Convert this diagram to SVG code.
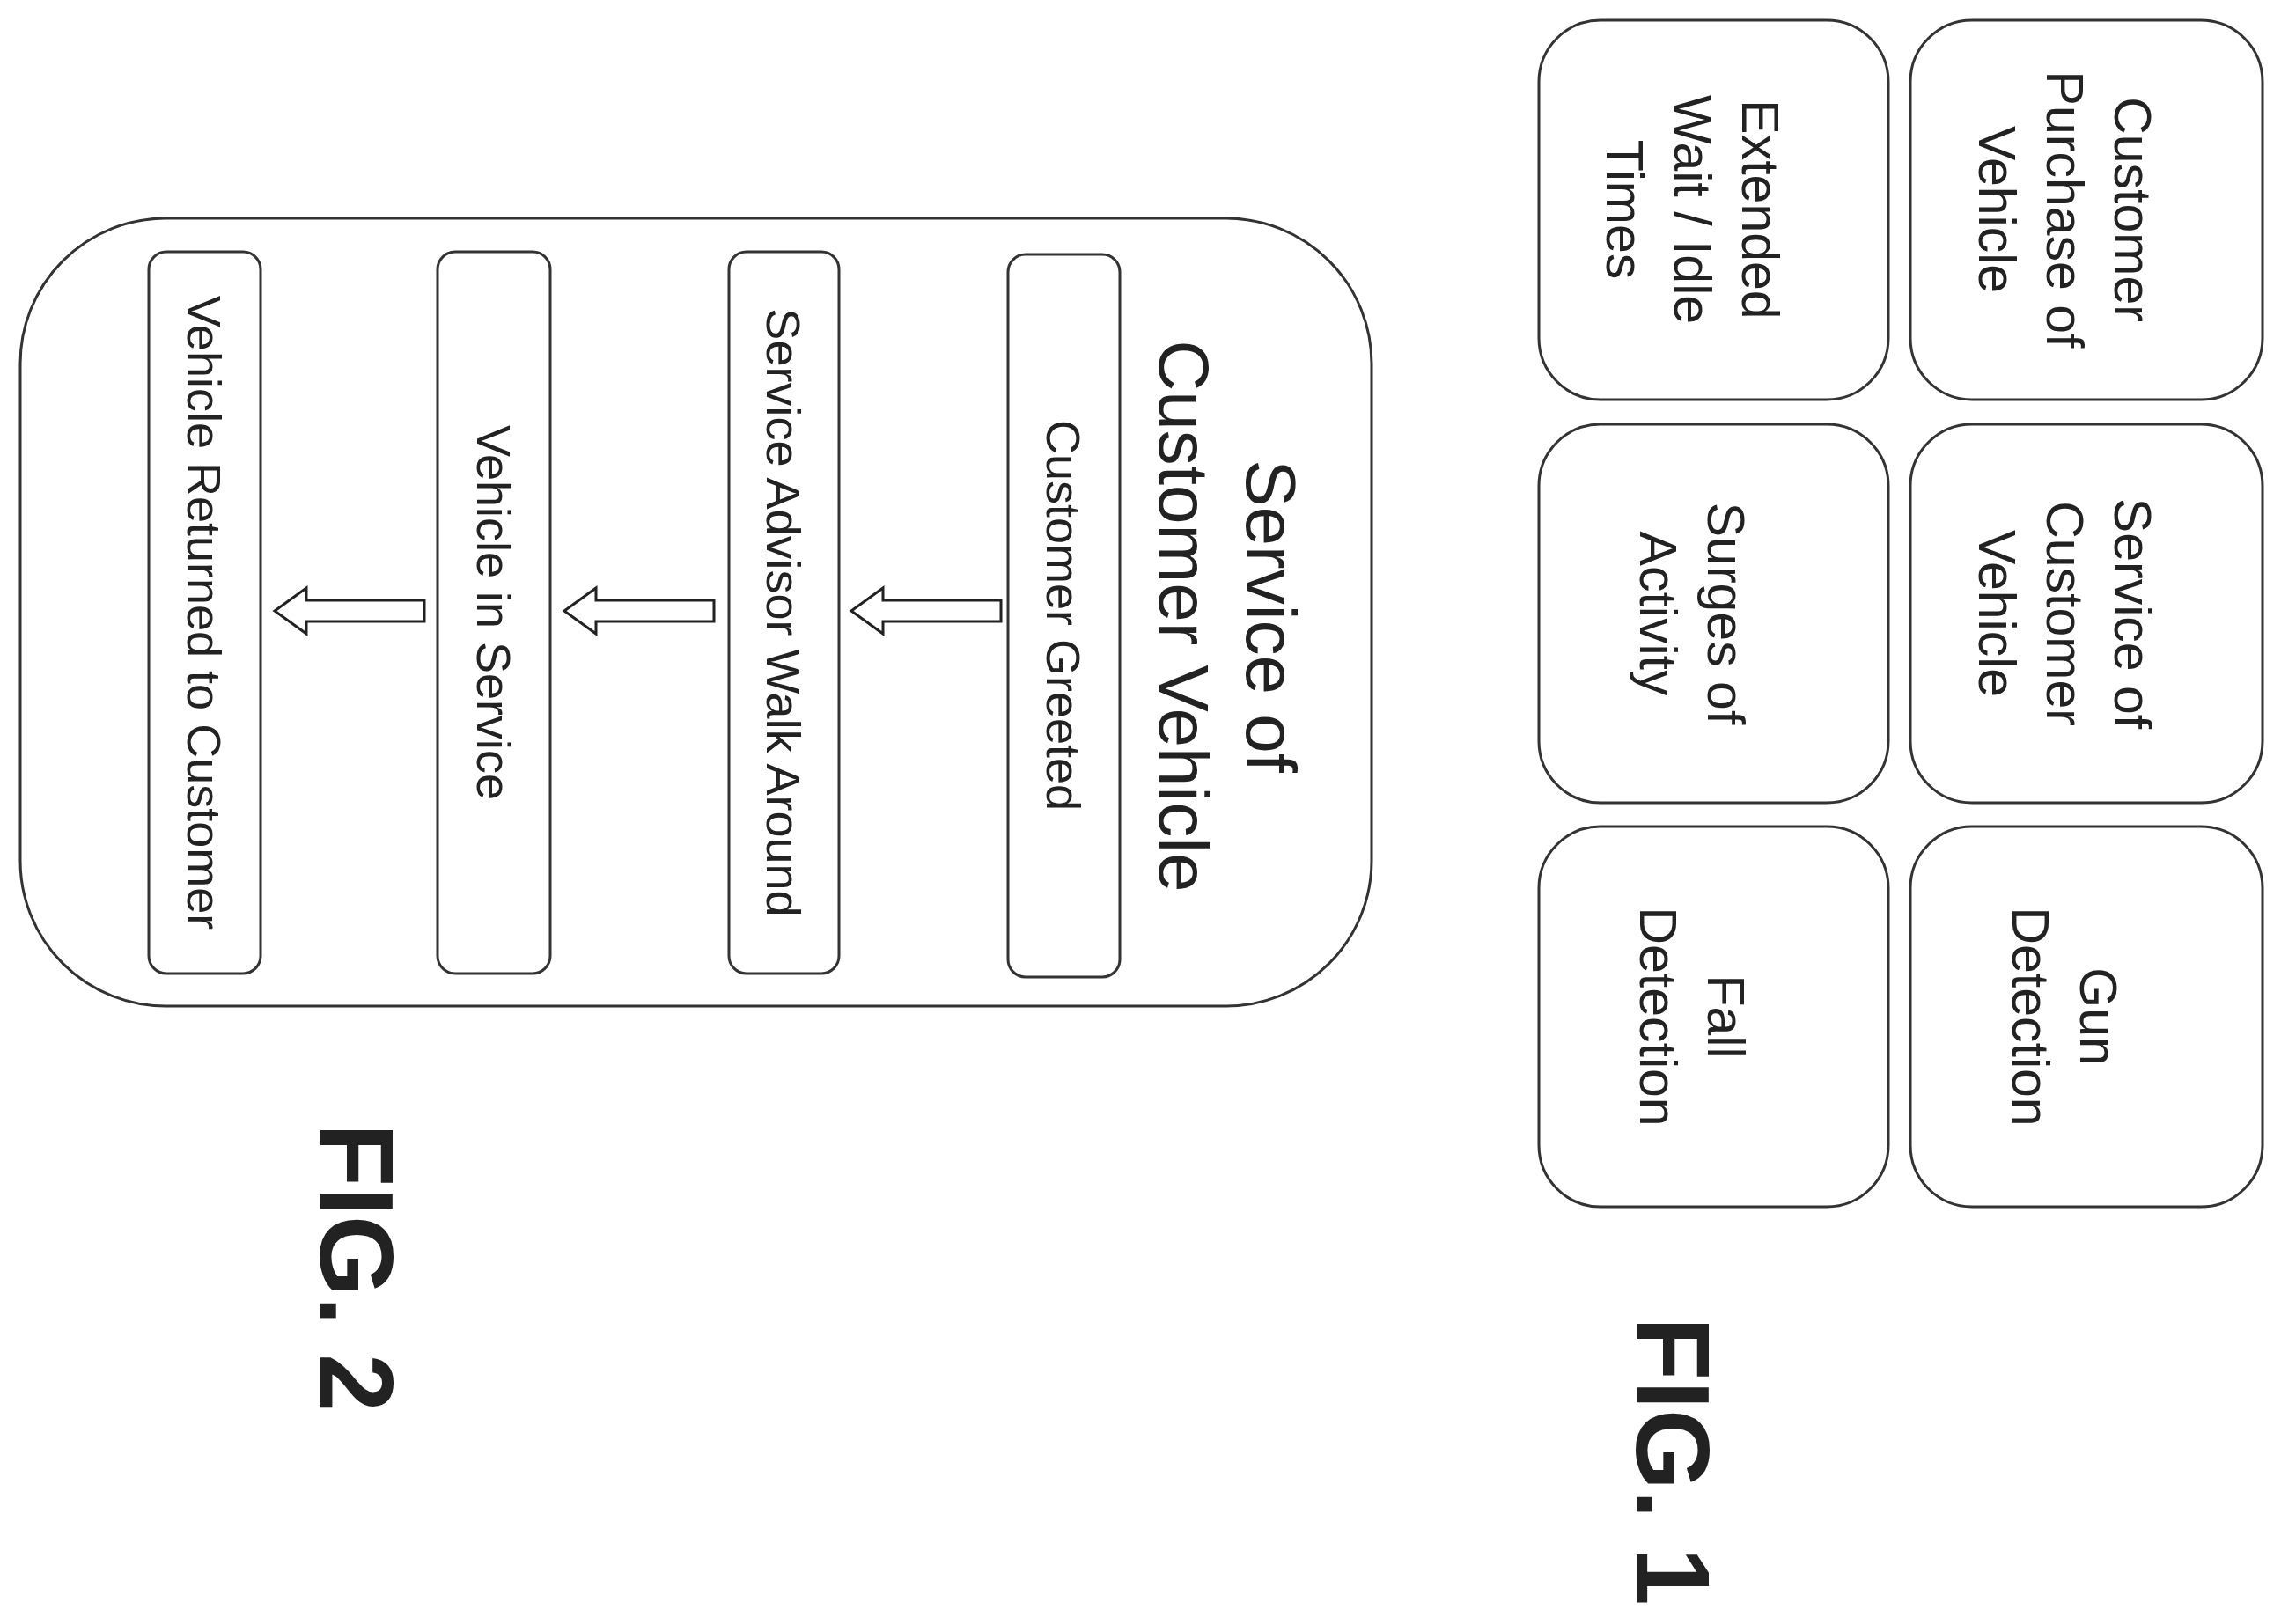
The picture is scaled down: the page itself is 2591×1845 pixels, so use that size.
<svg xmlns="http://www.w3.org/2000/svg" width="2591" height="1845" viewBox="0 0 2591 1845">
<style>
.b{fill:#fff;stroke:#333;stroke-width:3}
text{font-family:"Liberation Sans",Arial,sans-serif;fill:#222;text-anchor:middle;dominant-baseline:central}
.t{font-size:59px}
.s{font-size:54px}
.h{font-size:80px}
.f{font-size:118px;font-weight:bold}
.a{fill:#fff;stroke:#222;stroke-width:3}
</style>
<rect width="2591" height="1845" fill="#fff"/>
<g id="n1"><rect class="b" x="2170" y="23" width="400" height="431" rx="70"/><text class="t" transform="translate(2345,238) rotate(90)"><tspan x="0" dy="-77">Customer</tspan><tspan x="0" dy="77">Purchase of</tspan><tspan x="0" dy="77">Vehicle</tspan></text></g>
<g id="n2"><rect class="b" x="2170" y="482" width="400" height="430" rx="70"/><text class="t" transform="translate(2345,697) rotate(90)"><tspan x="0" dy="-77">Service of</tspan><tspan x="0" dy="77">Customer</tspan><tspan x="0" dy="77">Vehicle</tspan></text></g>
<g id="n3"><rect class="b" x="2170" y="939" width="400" height="432" rx="70"/><text class="t" transform="translate(2345,1155) rotate(90)"><tspan x="0" dy="-38">Gun</tspan><tspan x="0" dy="77">Detection</tspan></text></g>
<g id="n4"><rect class="b" x="1748" y="23" width="397" height="431" rx="70"/><text class="t" transform="translate(1922,238) rotate(90)"><tspan x="0" dy="-77">Extended</tspan><tspan x="0" dy="77">Wait / Idle</tspan><tspan x="0" dy="77">Times</tspan></text></g>
<g id="n5"><rect class="b" x="1748" y="482" width="397" height="430" rx="70"/><text class="t" transform="translate(1922,697) rotate(90)"><tspan x="0" dy="-38">Surges of</tspan><tspan x="0" dy="77">Activity</tspan></text></g>
<g id="n6"><rect class="b" x="1748" y="939" width="397" height="432" rx="70"/><text class="t" transform="translate(1922,1155) rotate(90)"><tspan x="0" dy="-38">Fall</tspan><tspan x="0" dy="77">Detection</tspan></text></g>
<text class="f" transform="translate(1900,1660) rotate(90)">FIG. 1</text>
<g id="outer"><rect class="b" x="23" y="248" width="1535" height="895" rx="165"/><text class="h" transform="translate(1395,700) rotate(90)"><tspan x="0" dy="-49">Service of</tspan><tspan x="0" dy="99">Customer Vehicle</tspan></text></g>
<g id="s1"><rect class="b" x="1145" y="289" width="127" height="821" rx="20"/><text class="s" transform="translate(1208,699) rotate(90)">Customer Greeted</text></g>
<g id="s2"><rect class="b" x="828" y="286" width="125" height="820" rx="20"/><text class="s" transform="translate(890,696) rotate(90)">Service Advisor Walk Around</text></g>
<g id="s3"><rect class="b" x="497" y="286" width="128" height="820" rx="20"/><text class="s" transform="translate(561,696) rotate(90)">Vehicle in Service</text></g>
<g id="s4"><rect class="b" x="169" y="286" width="127" height="820" rx="20"/><text class="s" transform="translate(232,696) rotate(90)">Vehicle Returned to Customer</text></g>
<g id="connectors">
<path class="a" d="M1137,682 L1003,682 L1003,668 L967,694 L1003,720 L1003,706 L1137,706 Z"/>
<path class="a" d="M811,682 L677,682 L677,668 L641,694 L677,720 L677,706 L811,706 Z"/>
<path class="a" d="M482,682 L348,682 L348,668 L312,694 L348,720 L348,706 L482,706 Z"/>
</g>
<text class="f" transform="translate(405,1440) rotate(90)">FIG. 2</text>
</svg>
